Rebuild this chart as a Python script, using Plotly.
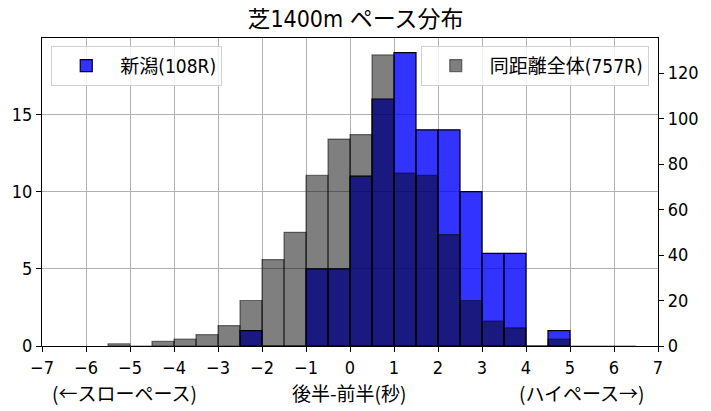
import plotly.graph_objects as go

# bin left edges (0.5 sec bins)
niigata_bins = [-2.5, -2.0, -1.5, -1.0, -0.5, 0.0, 0.5, 1.0, 1.5, 2.0, 2.5, 3.0, 3.5, 4.0, 4.5]
niigata_counts = [1, 0, 0, 5, 5, 11, 16, 19, 14, 14, 10, 6, 6, 0, 1]

all_bins = [-5.5, -5.0, -4.5, -4.0, -3.5, -3.0, -2.5, -2.0, -1.5, -1.0, -0.5, 0.0, 0.5,
            1.0, 1.5, 2.0, 2.5, 3.0, 3.5, 4.0, 4.5, 5.0, 5.5, 6.0]
all_counts = [1, 0, 2, 3, 5, 9, 20, 38, 50, 75, 91, 93, 128,
              76, 75, 49, 20, 11, 8, 0, 3, 0, 0, 0]

font = "DejaVu Sans Condensed, Noto Sans CJK JP"
jp_font = "Noto Sans CJK JP"

fig = go.Figure()

fig.add_trace(go.Bar(
    x=niigata_bins, y=niigata_counts, width=0.5, offset=0,
    name="新潟(108R)",
    marker=dict(color="rgba(0,0,255,0.8)", line=dict(color="black", width=1.2)),
    legend="legend", showlegend=True,
))

fig.add_trace(go.Bar(
    x=all_bins, y=all_counts, width=0.5, offset=0,
    name="同距離全体(757R)",
    marker=dict(color="rgba(0,0,0,0.5)", line=dict(color="rgba(0,0,0,0.5)", width=1.2)),
    yaxis="y2",
    legend="legend2", showlegend=True,
))

axis_common = dict(
    showline=True, linecolor="black", linewidth=1.2,
    ticks="outside", ticklen=5, tickcolor="black",
    tickfont=dict(size=18, color="black"),
)

legend_common = dict(
    y=0.975, yanchor="top", bgcolor="rgba(255,255,255,0.8)",
    bordercolor="#d0d0d0", borderwidth=1, font=dict(size=19), itemwidth=58,
)

fig.update_layout(
    width=711, height=411,
    margin=dict(l=42, r=50, t=38, b=65),
    paper_bgcolor="white", plot_bgcolor="white",
    font=dict(family=font, color="black"),
    barmode="overlay",
    title=dict(text="芝1400m ペース分布", x=0.5, xanchor="center", y=0.955, yanchor="middle",
               font=dict(size=23, color="black")),
    xaxis=dict(range=[-7, 7], dtick=1, mirror=True, showgrid=True, gridcolor="#b0b0b0",
               gridwidth=1, zeroline=False, **axis_common),
    yaxis=dict(range=[0, 19.95], dtick=5, showgrid=True, gridcolor="#b0b0b0",
               gridwidth=1, zeroline=False, **axis_common),
    yaxis2=dict(range=[0, 135.45], dtick=20, overlaying="y", side="right",
                showgrid=False, zeroline=False, **axis_common),
    legend=dict(x=0.015, xanchor="left", **legend_common),
    legend2=dict(x=0.985, xanchor="right", **legend_common),
    annotations=[
        dict(text="後半-前半(秒)", x=0.498, y=-0.151, xref="paper", yref="paper",
             xanchor="center", yanchor="middle", showarrow=False,
             font=dict(size=19, family=jp_font)),
        dict(text="(←スローペース)", x=0.134, y=-0.151, xref="paper", yref="paper",
             xanchor="center", yanchor="middle", showarrow=False,
             font=dict(size=19, family=jp_font)),
        dict(text="(ハイペース→)", x=0.877, y=-0.151, xref="paper", yref="paper",
             xanchor="center", yanchor="middle", showarrow=False,
             font=dict(size=19, family=jp_font)),
    ],
)

fig.write_html("out.html", config={"displayModeBar": False},
               post_script="document.body.style.margin='0';")
